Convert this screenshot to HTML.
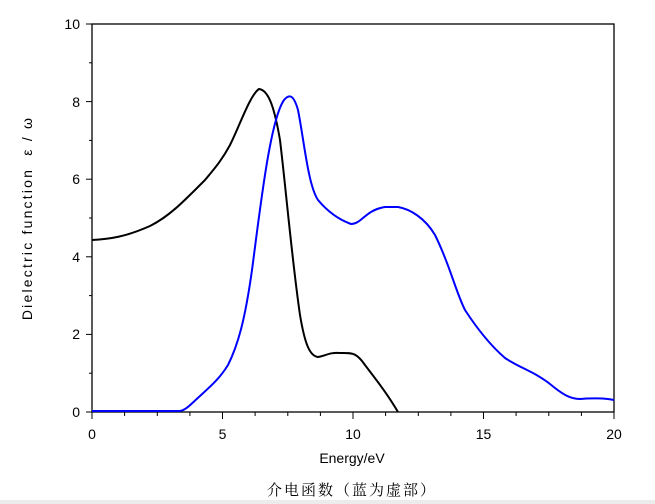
<!DOCTYPE html>
<html><head><style>
html,body{margin:0;padding:0;background:#fff;}
svg{display:block;font-family:"Liberation Sans",Arial,sans-serif;}
</style></head><body>
<svg width="655" height="504" viewBox="0 0 655 504">
<rect x="0" y="0" width="655" height="504" fill="#fff"/>
<rect x="0" y="500" width="655" height="4" fill="#ececec"/>
<rect x="92" y="24" width="522" height="388" fill="none" stroke="#000" stroke-width="1.3"/>
<g stroke="#000" stroke-width="1">
<line x1="86" y1="24" x2="92" y2="24"/><line x1="86" y1="101.6" x2="92" y2="101.6"/><line x1="86" y1="179.2" x2="92" y2="179.2"/><line x1="86" y1="256.8" x2="92" y2="256.8"/><line x1="86" y1="334.4" x2="92" y2="334.4"/><line x1="86" y1="412" x2="92" y2="412"/>
<line x1="89" y1="62.8" x2="92" y2="62.8"/><line x1="89" y1="140.4" x2="92" y2="140.4"/><line x1="89" y1="218" x2="92" y2="218"/><line x1="89" y1="295.6" x2="92" y2="295.6"/><line x1="89" y1="373.2" x2="92" y2="373.2"/>
<line x1="92" y1="412" x2="92" y2="419"/><line x1="222.5" y1="412" x2="222.5" y2="419"/><line x1="353" y1="412" x2="353" y2="419"/><line x1="483.5" y1="412" x2="483.5" y2="419"/><line x1="614" y1="412" x2="614" y2="419"/>
<line x1="124.6" y1="412" x2="124.6" y2="416"/><line x1="157.3" y1="412" x2="157.3" y2="416"/><line x1="189.9" y1="412" x2="189.9" y2="416"/>
<line x1="255.1" y1="412" x2="255.1" y2="416"/><line x1="287.8" y1="412" x2="287.8" y2="416"/><line x1="320.4" y1="412" x2="320.4" y2="416"/>
<line x1="385.6" y1="412" x2="385.6" y2="416"/><line x1="418.3" y1="412" x2="418.3" y2="416"/><line x1="450.9" y1="412" x2="450.9" y2="416"/>
<line x1="516.1" y1="412" x2="516.1" y2="416"/><line x1="548.8" y1="412" x2="548.8" y2="416"/><line x1="581.4" y1="412" x2="581.4" y2="416"/>
</g>
<g font-size="14" fill="#000" text-anchor="end">
<text x="80" y="29">10</text><text x="80" y="107">8</text><text x="80" y="184">6</text><text x="80" y="262">4</text><text x="80" y="339">2</text><text x="80" y="417">0</text>
</g>
<g font-size="14" fill="#000" text-anchor="middle">
<text x="92" y="439">0</text><text x="222.5" y="439">5</text><text x="353" y="439">10</text><text x="483.5" y="439">15</text><text x="614" y="439">20</text>
<text x="352" y="463" font-size="14">Energy/eV</text>
<text x="352" y="495" font-size="15" font-family="'Liberation Serif','Noto Serif CJK SC',serif" letter-spacing="2">介电函数（蓝为虚部）</text>
</g>
<text transform="translate(32,218) rotate(-90)" font-size="14" text-anchor="middle" letter-spacing="2.2" xml:space="preserve">Dielectric function  ε / ω</text>
<path fill="none" stroke="#000" stroke-width="2" d="M92,240 C110,239 125,237 150,226 C170,216 185,200 205,180 C215,168 222,160 230,145 C240,125 250,95 259,89 C268,90 274,105 280,140 C286,190 292,260 300,315 C305,345 310,356 318,357 C325,356 330,352 340,353 C352,353 356,352 365,365 C378,382 388,395 398,412"/>
<path fill="none" stroke="#0000ff" stroke-width="2" d="M92,411 L180,411 C186,410 190,405 200,396 C212,385 220,378 228,365 C238,345 245,320 252,270 C260,210 270,120 284,100 C290,93 294,96 298,110 C304,140 308,185 318,200 C328,212 340,220 351,224 C362,224 365,210 385,207 L398,207 C410,209 425,218 435,235 C450,265 455,290 465,310 C478,330 490,345 505,358 C520,368 535,372 550,384 C562,394 570,399 580,399 C590,398 605,398 614,400"/>
</svg>
</body></html>
